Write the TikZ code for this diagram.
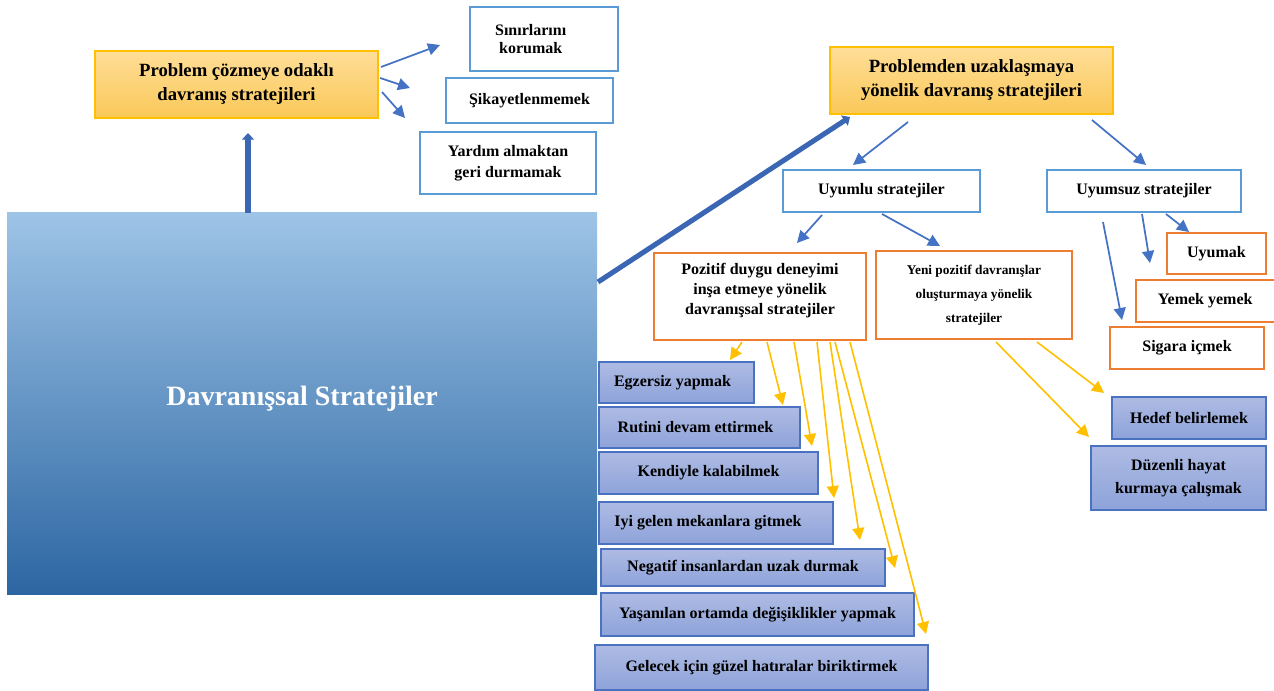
\documentclass[tikz,border=0pt]{standalone}
\usepackage{fontspec}
\setmainfont{Liberation Serif}
\usetikzlibrary{arrows.meta}

\definecolor{lineblue}{HTML}{5B9BD5}
\definecolor{arrowblue}{HTML}{4472C4}
\definecolor{thickblue}{HTML}{3B66B3}
\definecolor{orangeline}{HTML}{ED7D31}
\definecolor{gold}{HTML}{FFC000}
\definecolor{headtop}{HTML}{FFDE98}
\definecolor{headbot}{HTML}{FAC858}
\definecolor{itemline}{HTML}{4A72C0}
\definecolor{itemtop}{HTML}{AEBBE3}
\definecolor{itembot}{HTML}{8EA3DA}
\definecolor{maintop}{HTML}{9EC4E7}
\definecolor{mainmid}{HTML}{62A0D8}
\definecolor{mainbot}{HTML}{2C66A2}

\begin{document}
\begin{tikzpicture}[x=0.75pt,y=-0.75pt,
  % span={left}{top}{right}{bottom}: a box given by its corners
  span/.style n args={4}{minimum width={(#3-#1)*0.75pt}, minimum height={(#4-#2)*0.75pt},
    at={({(#1+#3)/2},{(#2+#4)/2})}},
  box/.style={inner sep=0pt, outer sep=0pt, align=center, line width=1.1pt,
    font=\bfseries\fontsize{12}{15}\selectfont},
  whitebox/.style={box, draw=lineblue, fill=white},
  orangebox/.style={box, draw=orangeline, fill=white},
  headbox/.style={box, draw=gold, top color=headtop, bottom color=headbot,
    font=\bfseries\fontsize{14}{18}\selectfont},
  itembox/.style={box, draw=itemline, top color=itemtop, bottom color=itembot},
  mainbox/.style={inner sep=0pt, outer sep=0pt, top color=maintop, middle color=mainmid,
    bottom color=mainbot, text=white, font=\bfseries\fontsize{21}{25}\selectfont},
  thinarrow/.style={draw=arrowblue, line width=1.3pt,
    -{Triangle[length=9pt,width=9pt]}},
  yellowarrow/.style={draw=gold, line width=1.2pt,
    -{Triangle[length=9pt,width=9pt]}},
  thickarrow/.style={draw=thickblue, line width=3.8pt,
    -{Triangle[length=5pt,width=9pt]}}
]
\useasboundingbox (0,0) rectangle (1274,691);

% central block
\node[mainbox, span={7}{213}{597}{594}] (main) {Davranışsal Stratejiler\rule[-11pt]{0pt}{0pt}};

% problem-solving branch
\node[headbox, span={95}{51}{378}{118}] (psolve)
  {Problem çözmeye odaklı\\davranış stratejileri};
\node[whitebox, span={470}{7}{618}{71}, font=\bfseries\fontsize{12}{14}\selectfont] (sinir)
  {\hspace*{-20pt}Sınırlarını\\\hspace*{-20pt}korumak};
\node[whitebox, span={446}{78}{613}{123}] (sikayet) {Şikayetlenmemek};
\node[whitebox, span={420}{132}{596}{194}, font=\bfseries\fontsize{12}{16}\selectfont] (yardim)
  {Yardım almaktan\\geri durmamak};

% avoidance branch
\node[headbox, span={830}{47}{1113}{114}] (pavoid)
  {Problemden uzaklaşmaya\\yönelik davranış stratejileri};
\node[whitebox, span={783}{170}{980}{212}] (uyumlu) {Uyumlu stratejiler};
\node[whitebox, span={1047}{170}{1241}{212}] (uyumsuz) {Uyumsuz stratejiler};

\node[orangebox, span={654}{253}{866}{340}] (pozitif)
  {Pozitif duygu deneyimi\\inşa etmeye yönelik\\davranışsal stratejiler\rule[-11pt]{0pt}{0pt}};
\node[orangebox, span={876}{251}{1072}{339}, font=\bfseries\fontsize{10}{18}\selectfont] (yeni)
  {Yeni pozitif davranışlar\\oluşturmaya yönelik\\stratejiler};

\node[orangebox, span={1167}{233}{1266}{274}] (uyumak) {Uyumak};
\node[orangebox, span={1136}{280}{1277}{322}] (yemek) {Yemek yemek\hspace*{2pt}};
\node[orangebox, span={1110}{327}{1264}{369}] (sigara) {Sigara içmek};

% positive-emotion items
\node[itembox, span={599}{362}{754}{403}] (egz) {Egzersiz yapmak\hspace*{6pt}};
\node[itembox, span={599}{407}{800}{448}] (rutin) {Rutini devam ettirmek\hspace*{6pt}};
\node[itembox, span={599}{452}{818}{494}] (kendi) {Kendiyle kalabilmek};
\node[itembox, span={599}{502}{833}{544}] (iyi) {Iyi gelen mekanlara gitmek\hspace*{12pt}};
\node[itembox, span={601}{549}{885}{586}] (negatif) {Negatif insanlardan uzak durmak};
\node[itembox, span={601}{593}{914}{636}] (yasan) {Yaşanılan ortamda değişiklikler yapmak};
\node[itembox, span={595}{645}{928}{690}] (gelecek) {Gelecek için güzel hatıralar biriktirmek};

% new-behaviour items
\node[itembox, span={1112}{397}{1266}{439}] (hedef) {Hedef belirlemek};
\node[itembox, span={1091}{446}{1266}{510}, font=\bfseries\fontsize{12}{17}\selectfont] (duzen)
  {Düzenli hayat\\kurmaya çalışmak};

% main links
\draw[thickarrow] ([shift={(-54,0)}]main.north) -- ([shift={(11.5,15)}]psolve.south);
\draw[thickarrow] ([shift={(1,69)}]main.north east) -- ([shift={(20,3)}]pavoid.south west);

% problem-solving links
\draw[thinarrow] ([shift={(3,-17.5)}]psolve.east) -- ([shift={(-30,6)}]sinir.west);
\draw[thinarrow] ([shift={(2,-6.5)}]psolve.east) -- ([shift={(-36,-12.5)}]sikayet.west);
\draw[thinarrow] ([shift={(4,7.5)}]psolve.east) -- ([shift={(-15,-14)}]yardim.north west);

% avoidance links
\draw[thinarrow] ([shift={(-63.5,8)}]pavoid.south) -- ([shift={(-28.5,-5)}]uyumlu.north);
\draw[thinarrow] ([shift={(-21,6)}]pavoid.south east) -- ([shift={(2,-5)}]uyumsuz.north);
\draw[thinarrow] ([shift={(-59.5,3)}]uyumlu.south) -- ([shift={(37,-10)}]pozitif.north);
\draw[thinarrow] ([shift={(0.5,2)}]uyumlu.south) -- ([shift={(-34,-5)}]yeni.north);
\draw[thinarrow] ([shift={(22,2)}]uyumsuz.south) -- ([shift={(22,-1)}]uyumak.north west);
\draw[thinarrow] ([shift={(-2,2)}]uyumsuz.south) -- ([shift={(14,-17)}]yemek.north west);
\draw[thinarrow] ([shift={(-41,10)}]uyumsuz.south) -- ([shift={(12,-7)}]sigara.north west);

% positive-emotion links
\draw[yellowarrow] ([shift={(-18,2)}]pozitif.south) -- ([shift={(-24,-2)}]egz.north east);
\draw[yellowarrow] ([shift={(7,2)}]pozitif.south) -- ([shift={(-17,-2)}]rutin.north east);
\draw[yellowarrow] ([shift={(34,2)}]pozitif.south) -- ([shift={(-6,-6)}]kendi.north east);
\draw[yellowarrow] ([shift={(57,2)}]pozitif.south) -- ([shift={(1,-4)}]iyi.north east);
\draw[yellowarrow] ([shift={(70,2)}]pozitif.south) -- ([shift={(-25,-9)}]negatif.north east);
\draw[yellowarrow] ([shift={(75,2)}]pozitif.south) -- ([shift={(-19,-25)}]yasan.north east);
\draw[yellowarrow] ([shift={(90,2)}]pozitif.south) -- ([shift={(-2,-11)}]gelecek.north east);

% new-behaviour links
\draw[yellowarrow] ([shift={(22,3)}]yeni.south) -- ([shift={(-2,-9)}]duzen.north west);
\draw[yellowarrow] ([shift={(63,3)}]yeni.south) -- ([shift={(-8,-4)}]hedef.north west);
\end{tikzpicture}
\end{document}
